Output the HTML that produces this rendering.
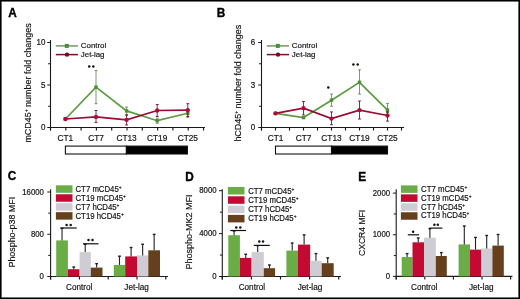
<!DOCTYPE html>
<html><head><meta charset="utf-8"><style>
html,body{margin:0;padding:0;background:#fff;}
body{position:relative;width:520px;height:299px;overflow:hidden;}
.frame{position:absolute;left:0;top:0;filter:none !important;}
svg{display:block;font-family:'Liberation Sans', sans-serif;filter:blur(0.3px);}
</style></head><body>
<svg width="520" height="299" viewBox="0 0 520 299">
<rect width="520" height="299" fill="#fff"/>
<text transform="translate(8.20,16.60) scale(1,1.04)" x="0" y="0" font-size="11.8" text-anchor="start" fill="#000" font-weight="bold" stroke="#000" stroke-width="0.35" >A</text>
<text transform="translate(216.70,16.60) scale(1,1.04)" x="0" y="0" font-size="11.8" text-anchor="start" fill="#000" font-weight="bold" stroke="#000" stroke-width="0.35" >B</text>
<text transform="translate(7.80,180.20) scale(1,1.04)" x="0" y="0" font-size="11.8" text-anchor="start" fill="#000" font-weight="bold" stroke="#000" stroke-width="0.35" >C</text>
<text transform="translate(185.20,181.00) scale(1,1.04)" x="0" y="0" font-size="11.8" text-anchor="start" fill="#000" font-weight="bold" stroke="#000" stroke-width="0.35" >D</text>
<text transform="translate(358.20,181.00) scale(1,1.04)" x="0" y="0" font-size="11.8" text-anchor="start" fill="#000" font-weight="bold" stroke="#000" stroke-width="0.35" >E</text>
<line x1="50.5" y1="40" x2="50.5" y2="130.5" stroke="#1a1a1a" stroke-width="1.1"/>
<line x1="50.0" y1="127.5" x2="205" y2="127.5" stroke="#1a1a1a" stroke-width="1"/>
<line x1="47.2" y1="127.5" x2="50.5" y2="127.5" stroke="#1a1a1a" stroke-width="1"/>
<line x1="48.1" y1="106.25" x2="50.5" y2="106.25" stroke="#1a1a1a" stroke-width="1"/>
<line x1="47.2" y1="85.0" x2="50.5" y2="85.0" stroke="#1a1a1a" stroke-width="1"/>
<line x1="48.1" y1="63.75" x2="50.5" y2="63.75" stroke="#1a1a1a" stroke-width="1"/>
<line x1="47.2" y1="42.5" x2="50.5" y2="42.5" stroke="#1a1a1a" stroke-width="1"/>
<text transform="translate(45.50,130.20) scale(1,1.13)" x="0" y="0" font-size="8" text-anchor="end" fill="#151515" font-weight="normal" stroke="#151515" stroke-width="0.18" >0</text>
<text transform="translate(45.50,87.70) scale(1,1.13)" x="0" y="0" font-size="8" text-anchor="end" fill="#151515" font-weight="normal" stroke="#151515" stroke-width="0.18" >5</text>
<text transform="translate(45.50,45.20) scale(1,1.13)" x="0" y="0" font-size="8" text-anchor="end" fill="#151515" font-weight="normal" stroke="#151515" stroke-width="0.18" >10</text>
<line x1="50.5" y1="127.5" x2="50.5" y2="130.5" stroke="#1a1a1a" stroke-width="1.15"/>
<line x1="65.8" y1="127.5" x2="65.8" y2="130.5" stroke="#1a1a1a" stroke-width="1.15"/>
<line x1="81.1" y1="127.5" x2="81.1" y2="130.5" stroke="#1a1a1a" stroke-width="1.15"/>
<line x1="96.39999999999999" y1="127.5" x2="96.39999999999999" y2="130.5" stroke="#1a1a1a" stroke-width="1.15"/>
<line x1="111.69999999999999" y1="127.5" x2="111.69999999999999" y2="130.5" stroke="#1a1a1a" stroke-width="1.15"/>
<line x1="126.99999999999999" y1="127.5" x2="126.99999999999999" y2="130.5" stroke="#1a1a1a" stroke-width="1.15"/>
<line x1="142.29999999999998" y1="127.5" x2="142.29999999999998" y2="130.5" stroke="#1a1a1a" stroke-width="1.15"/>
<line x1="157.6" y1="127.5" x2="157.6" y2="130.5" stroke="#1a1a1a" stroke-width="1.15"/>
<line x1="172.9" y1="127.5" x2="172.9" y2="130.5" stroke="#1a1a1a" stroke-width="1.15"/>
<line x1="188.20000000000002" y1="127.5" x2="188.20000000000002" y2="130.5" stroke="#1a1a1a" stroke-width="1.15"/>
<line x1="203.50000000000003" y1="127.5" x2="203.50000000000003" y2="130.5" stroke="#1a1a1a" stroke-width="1.15"/>
<text transform="translate(65.40,140.90) scale(1,1.13)" x="0" y="0" font-size="8.3" text-anchor="middle" fill="#151515" font-weight="normal" stroke="#151515" stroke-width="0.18" >CT1</text>
<text transform="translate(96.00,140.90) scale(1,1.13)" x="0" y="0" font-size="8.3" text-anchor="middle" fill="#151515" font-weight="normal" stroke="#151515" stroke-width="0.18" >CT7</text>
<text transform="translate(126.60,140.90) scale(1,1.13)" x="0" y="0" font-size="8.3" text-anchor="middle" fill="#151515" font-weight="normal" stroke="#151515" stroke-width="0.18" >CT13</text>
<text transform="translate(157.20,140.90) scale(1,1.13)" x="0" y="0" font-size="8.3" text-anchor="middle" fill="#151515" font-weight="normal" stroke="#151515" stroke-width="0.18" >CT19</text>
<text transform="translate(187.80,140.90) scale(1,1.13)" x="0" y="0" font-size="8.3" text-anchor="middle" fill="#151515" font-weight="normal" stroke="#151515" stroke-width="0.18" >CT25</text>
<rect x="65.4" y="146.1" width="61.0" height="7.9" fill="#fff" stroke="#111" stroke-width="1.1"/>
<rect x="126.4" y="146.1" width="61.0" height="7.9" fill="#000" stroke="#111" stroke-width="1.1"/>
<polyline points="65.4,119.00 96.0,87.12 126.60000000000001,110.92 157.20000000000002,120.70 187.8,113.22" fill="none" stroke="#5e9c42" stroke-width="1.7"/>
<line x1="96.0" y1="103.7" x2="96.0" y2="70.55" stroke="#6a9060" stroke-width="0.9"/>
<line x1="94.6" y1="70.55" x2="97.4" y2="70.55" stroke="#6a9060" stroke-width="1"/>
<line x1="94.6" y1="103.7" x2="97.4" y2="103.7" stroke="#6a9060" stroke-width="1"/>
<line x1="126.60000000000001" y1="115.6" x2="126.60000000000001" y2="107.1" stroke="#6a9060" stroke-width="0.9"/>
<line x1="125.2" y1="107.1" x2="128.0" y2="107.1" stroke="#6a9060" stroke-width="1"/>
<line x1="125.2" y1="115.6" x2="128.0" y2="115.6" stroke="#6a9060" stroke-width="1"/>
<line x1="157.20000000000002" y1="123.25" x2="157.20000000000002" y2="118.15" stroke="#6a9060" stroke-width="0.9"/>
<line x1="155.8" y1="118.15" x2="158.60000000000002" y2="118.15" stroke="#6a9060" stroke-width="1"/>
<line x1="155.8" y1="123.25" x2="158.60000000000002" y2="123.25" stroke="#6a9060" stroke-width="1"/>
<line x1="187.8" y1="117.3" x2="187.8" y2="110.075" stroke="#6a9060" stroke-width="0.9"/>
<line x1="186.4" y1="110.075" x2="189.20000000000002" y2="110.075" stroke="#6a9060" stroke-width="1"/>
<line x1="186.4" y1="117.3" x2="189.20000000000002" y2="117.3" stroke="#6a9060" stroke-width="1"/>
<rect x="63.7" y="117.3" width="3.4" height="3.4" fill="#4f8e38"/>
<rect x="94.3" y="85.425" width="3.4" height="3.4" fill="#4f8e38"/>
<rect x="124.9" y="109.225" width="3.4" height="3.4" fill="#4f8e38"/>
<rect x="155.50000000000003" y="119.0" width="3.4" height="3.4" fill="#4f8e38"/>
<rect x="186.10000000000002" y="111.52" width="3.4" height="3.4" fill="#4f8e38"/>
<polyline points="65.4,119.00 96.0,116.88 126.60000000000001,119.85 157.20000000000002,110.50 187.8,110.08" fill="none" stroke="#9a0c34" stroke-width="1.7"/>
<line x1="96.0" y1="122.4" x2="96.0" y2="110.5" stroke="#7a1832" stroke-width="0.9"/>
<line x1="94.6" y1="110.5" x2="97.4" y2="110.5" stroke="#7a1832" stroke-width="1"/>
<line x1="94.6" y1="122.4" x2="97.4" y2="122.4" stroke="#7a1832" stroke-width="1"/>
<line x1="126.60000000000001" y1="124.95" x2="126.60000000000001" y2="114.75" stroke="#7a1832" stroke-width="0.9"/>
<line x1="125.2" y1="114.75" x2="128.0" y2="114.75" stroke="#7a1832" stroke-width="1"/>
<line x1="125.2" y1="124.95" x2="128.0" y2="124.95" stroke="#7a1832" stroke-width="1"/>
<line x1="157.20000000000002" y1="116.45" x2="157.20000000000002" y2="104.55" stroke="#7a1832" stroke-width="0.9"/>
<line x1="155.8" y1="104.55" x2="158.60000000000002" y2="104.55" stroke="#7a1832" stroke-width="1"/>
<line x1="155.8" y1="116.45" x2="158.60000000000002" y2="116.45" stroke="#7a1832" stroke-width="1"/>
<line x1="187.8" y1="116.45" x2="187.8" y2="103.7" stroke="#7a1832" stroke-width="0.9"/>
<line x1="186.4" y1="103.7" x2="189.20000000000002" y2="103.7" stroke="#7a1832" stroke-width="1"/>
<line x1="186.4" y1="116.45" x2="189.20000000000002" y2="116.45" stroke="#7a1832" stroke-width="1"/>
<circle cx="65.4" cy="119.00" r="2.2" fill="#b00c38"/>
<circle cx="96.0" cy="116.88" r="2.2" fill="#b00c38"/>
<circle cx="126.60000000000001" cy="119.85" r="2.2" fill="#b00c38"/>
<circle cx="157.20000000000002" cy="110.50" r="2.2" fill="#b00c38"/>
<circle cx="187.8" cy="110.08" r="2.2" fill="#b00c38"/>
<circle cx="89.2" cy="66.4" r="1.25" fill="#111"/>
<circle cx="93.3" cy="66.4" r="1.25" fill="#111"/>
<line x1="55.8" y1="45.9" x2="78.0" y2="45.9" stroke="#6f9a5e" stroke-width="1.5"/>
<rect x="64.8" y="43.9" width="4" height="4" fill="#4a8a3a"/>
<line x1="55.8" y1="54.6" x2="78.0" y2="54.6" stroke="#7e0c2c" stroke-width="1.5"/>
<circle cx="67.0" cy="54.6" r="2.2" fill="#700a26"/>
<text transform="translate(80.80,48.00) scale(1,1.0)" x="0" y="0" font-size="7.9" text-anchor="start" fill="#151515" font-weight="normal" stroke="#151515" stroke-width="0.18" >Control</text>
<text transform="translate(80.80,56.70) scale(1,1.0)" x="0" y="0" font-size="7.9" text-anchor="start" fill="#151515" font-weight="normal" stroke="#151515" stroke-width="0.18" >Jet-lag</text>
<text transform="translate(31.2,83) rotate(-90) scale(1.0,0.95)" x="0" y="0" font-size="8.95" text-anchor="middle" fill="#151515" stroke="#151515" stroke-width="0.18">mCD45<tspan baseline-shift="2.8" font-size="5">+</tspan> number fold changes</text>
<line x1="261.5" y1="40" x2="261.5" y2="130.5" stroke="#1a1a1a" stroke-width="1.1"/>
<line x1="261.0" y1="127.5" x2="404" y2="127.5" stroke="#1a1a1a" stroke-width="1"/>
<line x1="258.2" y1="127.5" x2="261.5" y2="127.5" stroke="#1a1a1a" stroke-width="1"/>
<line x1="259.1" y1="106.25" x2="261.5" y2="106.25" stroke="#1a1a1a" stroke-width="1"/>
<line x1="258.2" y1="85.0" x2="261.5" y2="85.0" stroke="#1a1a1a" stroke-width="1"/>
<line x1="259.1" y1="63.75" x2="261.5" y2="63.75" stroke="#1a1a1a" stroke-width="1"/>
<line x1="258.2" y1="42.5" x2="261.5" y2="42.5" stroke="#1a1a1a" stroke-width="1"/>
<text transform="translate(255.20,130.20) scale(1,1.13)" x="0" y="0" font-size="8" text-anchor="end" fill="#151515" font-weight="normal" stroke="#151515" stroke-width="0.18" >0</text>
<text transform="translate(255.20,87.70) scale(1,1.13)" x="0" y="0" font-size="8" text-anchor="end" fill="#151515" font-weight="normal" stroke="#151515" stroke-width="0.18" >3</text>
<text transform="translate(255.20,45.20) scale(1,1.13)" x="0" y="0" font-size="8" text-anchor="end" fill="#151515" font-weight="normal" stroke="#151515" stroke-width="0.18" >6</text>
<line x1="261.5" y1="127.5" x2="261.5" y2="130.5" stroke="#1a1a1a" stroke-width="1.15"/>
<line x1="275.5" y1="127.5" x2="275.5" y2="130.5" stroke="#1a1a1a" stroke-width="1.15"/>
<line x1="289.5" y1="127.5" x2="289.5" y2="130.5" stroke="#1a1a1a" stroke-width="1.15"/>
<line x1="303.5" y1="127.5" x2="303.5" y2="130.5" stroke="#1a1a1a" stroke-width="1.15"/>
<line x1="317.5" y1="127.5" x2="317.5" y2="130.5" stroke="#1a1a1a" stroke-width="1.15"/>
<line x1="331.5" y1="127.5" x2="331.5" y2="130.5" stroke="#1a1a1a" stroke-width="1.15"/>
<line x1="345.5" y1="127.5" x2="345.5" y2="130.5" stroke="#1a1a1a" stroke-width="1.15"/>
<line x1="359.5" y1="127.5" x2="359.5" y2="130.5" stroke="#1a1a1a" stroke-width="1.15"/>
<line x1="373.5" y1="127.5" x2="373.5" y2="130.5" stroke="#1a1a1a" stroke-width="1.15"/>
<line x1="387.5" y1="127.5" x2="387.5" y2="130.5" stroke="#1a1a1a" stroke-width="1.15"/>
<line x1="401.5" y1="127.5" x2="401.5" y2="130.5" stroke="#1a1a1a" stroke-width="1.15"/>
<text transform="translate(275.50,140.90) scale(1,1.13)" x="0" y="0" font-size="8.3" text-anchor="middle" fill="#151515" font-weight="normal" stroke="#151515" stroke-width="0.18" >CT1</text>
<text transform="translate(303.50,140.90) scale(1,1.13)" x="0" y="0" font-size="8.3" text-anchor="middle" fill="#151515" font-weight="normal" stroke="#151515" stroke-width="0.18" >CT7</text>
<text transform="translate(331.50,140.90) scale(1,1.13)" x="0" y="0" font-size="8.3" text-anchor="middle" fill="#151515" font-weight="normal" stroke="#151515" stroke-width="0.18" >CT13</text>
<text transform="translate(359.50,140.90) scale(1,1.13)" x="0" y="0" font-size="8.3" text-anchor="middle" fill="#151515" font-weight="normal" stroke="#151515" stroke-width="0.18" >CT19</text>
<text transform="translate(387.50,140.90) scale(1,1.13)" x="0" y="0" font-size="8.3" text-anchor="middle" fill="#151515" font-weight="normal" stroke="#151515" stroke-width="0.18" >CT25</text>
<rect x="275.5" y="146.1" width="56.0" height="7.9" fill="#fff" stroke="#111" stroke-width="1.1"/>
<rect x="331.5" y="146.1" width="56.0" height="7.9" fill="#000" stroke="#111" stroke-width="1.1"/>
<polyline points="275.5,113.33 303.5,117.58 331.5,100.16 359.5,82.31 387.5,110.08" fill="none" stroke="#5e9c42" stroke-width="1.7"/>
<line x1="331.5" y1="106.25" x2="331.5" y2="94.06666666666666" stroke="#6a9060" stroke-width="0.9"/>
<line x1="330.1" y1="94.06666666666666" x2="332.9" y2="94.06666666666666" stroke="#6a9060" stroke-width="1"/>
<line x1="330.1" y1="106.25" x2="332.9" y2="106.25" stroke="#6a9060" stroke-width="1"/>
<line x1="359.5" y1="94.06666666666666" x2="359.5" y2="69.84166666666667" stroke="#6a9060" stroke-width="0.9"/>
<line x1="358.1" y1="69.84166666666667" x2="360.9" y2="69.84166666666667" stroke="#6a9060" stroke-width="1"/>
<line x1="358.1" y1="94.06666666666666" x2="360.9" y2="94.06666666666666" stroke="#6a9060" stroke-width="1"/>
<line x1="387.5" y1="112.48333333333333" x2="387.5" y2="103.41666666666667" stroke="#6a9060" stroke-width="0.9"/>
<line x1="386.1" y1="103.41666666666667" x2="388.9" y2="103.41666666666667" stroke="#6a9060" stroke-width="1"/>
<line x1="386.1" y1="112.48333333333333" x2="388.9" y2="112.48333333333333" stroke="#6a9060" stroke-width="1"/>
<rect x="273.8" y="111.63333333333333" width="3.4" height="3.4" fill="#4f8e38"/>
<rect x="301.8" y="115.88333333333333" width="3.4" height="3.4" fill="#4f8e38"/>
<rect x="329.8" y="98.45833333333333" width="3.4" height="3.4" fill="#4f8e38"/>
<rect x="357.8" y="80.60833333333333" width="3.4" height="3.4" fill="#4f8e38"/>
<rect x="385.8" y="108.375" width="3.4" height="3.4" fill="#4f8e38"/>
<polyline points="275.5,113.33 303.5,108.23 331.5,118.58 359.5,110.08 387.5,115.46" fill="none" stroke="#9a0c34" stroke-width="1.7"/>
<line x1="303.5" y1="114.89166666666667" x2="303.5" y2="101.575" stroke="#7a1832" stroke-width="0.9"/>
<line x1="302.1" y1="101.575" x2="304.9" y2="101.575" stroke="#7a1832" stroke-width="1"/>
<line x1="302.1" y1="114.89166666666667" x2="304.9" y2="114.89166666666667" stroke="#7a1832" stroke-width="1"/>
<line x1="331.5" y1="124.66666666666667" x2="331.5" y2="111.91666666666666" stroke="#7a1832" stroke-width="0.9"/>
<line x1="330.1" y1="111.91666666666666" x2="332.9" y2="111.91666666666666" stroke="#7a1832" stroke-width="1"/>
<line x1="330.1" y1="124.66666666666667" x2="332.9" y2="124.66666666666667" stroke="#7a1832" stroke-width="1"/>
<line x1="359.5" y1="119.0" x2="359.5" y2="101.00833333333333" stroke="#7a1832" stroke-width="0.9"/>
<line x1="358.1" y1="101.00833333333333" x2="360.9" y2="101.00833333333333" stroke="#7a1832" stroke-width="1"/>
<line x1="358.1" y1="119.0" x2="360.9" y2="119.0" stroke="#7a1832" stroke-width="1"/>
<line x1="387.5" y1="121.125" x2="387.5" y2="111.91666666666666" stroke="#7a1832" stroke-width="0.9"/>
<line x1="386.1" y1="111.91666666666666" x2="388.9" y2="111.91666666666666" stroke="#7a1832" stroke-width="1"/>
<line x1="386.1" y1="121.125" x2="388.9" y2="121.125" stroke="#7a1832" stroke-width="1"/>
<circle cx="275.5" cy="113.33" r="2.2" fill="#b00c38"/>
<circle cx="303.5" cy="108.23" r="2.2" fill="#b00c38"/>
<circle cx="331.5" cy="118.58" r="2.2" fill="#b00c38"/>
<circle cx="359.5" cy="110.08" r="2.2" fill="#b00c38"/>
<circle cx="387.5" cy="115.46" r="2.2" fill="#b00c38"/>
<circle cx="328.3" cy="87.4" r="1.25" fill="#111"/>
<circle cx="353.4" cy="64.5" r="1.25" fill="#111"/>
<circle cx="357.7" cy="64.5" r="1.25" fill="#111"/>
<line x1="266.8" y1="45.9" x2="289.0" y2="45.9" stroke="#6f9a5e" stroke-width="1.5"/>
<rect x="275.8" y="43.9" width="4" height="4" fill="#4a8a3a"/>
<line x1="266.8" y1="54.6" x2="289.0" y2="54.6" stroke="#7e0c2c" stroke-width="1.5"/>
<circle cx="278.0" cy="54.6" r="2.2" fill="#700a26"/>
<text transform="translate(291.80,48.00) scale(1,1.0)" x="0" y="0" font-size="7.9" text-anchor="start" fill="#151515" font-weight="normal" stroke="#151515" stroke-width="0.18" >Control</text>
<text transform="translate(291.80,56.70) scale(1,1.0)" x="0" y="0" font-size="7.9" text-anchor="start" fill="#151515" font-weight="normal" stroke="#151515" stroke-width="0.18" >Jet-lag</text>
<text transform="translate(240.8,83.25) rotate(-90) scale(1.0,0.95)" x="0" y="0" font-size="8.95" text-anchor="middle" fill="#151515" stroke="#151515" stroke-width="0.18">hCD45<tspan baseline-shift="2.8" font-size="5">+</tspan> number fold changes</text>
<line x1="50.6" y1="189.3" x2="50.6" y2="279.5" stroke="#1a1a1a" stroke-width="1.1"/>
<line x1="50.1" y1="276.5" x2="168" y2="276.5" stroke="#1a1a1a" stroke-width="1.1"/>
<line x1="47.300000000000004" y1="276.5" x2="50.6" y2="276.5" stroke="#1a1a1a" stroke-width="1"/>
<line x1="48.2" y1="255.375" x2="50.6" y2="255.375" stroke="#1a1a1a" stroke-width="1"/>
<line x1="47.300000000000004" y1="234.25" x2="50.6" y2="234.25" stroke="#1a1a1a" stroke-width="1"/>
<line x1="48.2" y1="213.125" x2="50.6" y2="213.125" stroke="#1a1a1a" stroke-width="1"/>
<line x1="47.300000000000004" y1="192.0" x2="50.6" y2="192.0" stroke="#1a1a1a" stroke-width="1"/>
<text transform="translate(43.90,279.20) scale(1,1.13)" x="0" y="0" font-size="7.8" text-anchor="end" fill="#151515" font-weight="normal" stroke="#151515" stroke-width="0.18" >0</text>
<text transform="translate(43.90,236.95) scale(1,1.13)" x="0" y="0" font-size="7.8" text-anchor="end" fill="#151515" font-weight="normal" stroke="#151515" stroke-width="0.18" >800</text>
<text transform="translate(43.90,194.70) scale(1,1.13)" x="0" y="0" font-size="7.8" text-anchor="end" fill="#151515" font-weight="normal" stroke="#151515" stroke-width="0.18" >16000</text>
<line x1="50.6" y1="276.5" x2="50.6" y2="279.5" stroke="#1a1a1a" stroke-width="1.15"/>
<line x1="79.4" y1="276.5" x2="79.4" y2="279.5" stroke="#1a1a1a" stroke-width="1.15"/>
<line x1="108.2" y1="276.5" x2="108.2" y2="279.5" stroke="#1a1a1a" stroke-width="1.15"/>
<line x1="137.0" y1="276.5" x2="137.0" y2="279.5" stroke="#1a1a1a" stroke-width="1.15"/>
<line x1="165.8" y1="276.5" x2="165.8" y2="279.5" stroke="#1a1a1a" stroke-width="1.15"/>
<rect x="56.2" y="240.4" width="11.700000000000003" height="36.099999999999994" fill="#6aac46"/>
<line x1="62.050000000000004" y1="240.4" x2="62.050000000000004" y2="228.0" stroke="#222" stroke-width="1.1"/>
<line x1="60.650000000000006" y1="228.3" x2="63.45" y2="228.3" stroke="#222" stroke-width="1.4"/>
<rect x="67.9" y="269.2" width="11.699999999999989" height="7.300000000000011" fill="#c20a32"/>
<line x1="73.75" y1="269.2" x2="73.75" y2="266.7" stroke="#222" stroke-width="1.1"/>
<line x1="72.35" y1="267.0" x2="75.15" y2="267.0" stroke="#222" stroke-width="1.4"/>
<rect x="79.6" y="252.1" width="11.200000000000003" height="24.400000000000006" fill="#cfccd4"/>
<line x1="85.19999999999999" y1="252.1" x2="85.19999999999999" y2="244.0" stroke="#222" stroke-width="1.1"/>
<line x1="83.79999999999998" y1="244.3" x2="86.6" y2="244.3" stroke="#222" stroke-width="1.4"/>
<rect x="90.8" y="267.6" width="11.700000000000003" height="8.899999999999977" fill="#66401c"/>
<line x1="96.65" y1="267.6" x2="96.65" y2="263.4" stroke="#222" stroke-width="1.1"/>
<line x1="95.25" y1="263.7" x2="98.05000000000001" y2="263.7" stroke="#222" stroke-width="1.4"/>
<rect x="113.8" y="264.9" width="11.400000000000006" height="11.600000000000023" fill="#6aac46"/>
<line x1="119.5" y1="264.9" x2="119.5" y2="255.9" stroke="#222" stroke-width="1.1"/>
<line x1="118.1" y1="256.2" x2="120.9" y2="256.2" stroke="#222" stroke-width="1.4"/>
<rect x="125.2" y="256.4" width="11.799999999999997" height="20.100000000000023" fill="#c20a32"/>
<line x1="131.1" y1="256.4" x2="131.1" y2="247.2" stroke="#222" stroke-width="1.1"/>
<line x1="129.7" y1="247.5" x2="132.5" y2="247.5" stroke="#222" stroke-width="1.4"/>
<rect x="137.0" y="255.4" width="11.300000000000011" height="21.099999999999994" fill="#cfccd4"/>
<line x1="142.65" y1="255.4" x2="142.65" y2="244.0" stroke="#222" stroke-width="1.1"/>
<line x1="141.25" y1="244.3" x2="144.05" y2="244.3" stroke="#222" stroke-width="1.4"/>
<rect x="148.3" y="250.3" width="11.699999999999989" height="26.19999999999999" fill="#66401c"/>
<line x1="154.15" y1="250.3" x2="154.15" y2="234.1" stroke="#222" stroke-width="1.1"/>
<line x1="152.75" y1="234.4" x2="155.55" y2="234.4" stroke="#222" stroke-width="1.4"/>
<line x1="60.3" y1="228.0" x2="76.7" y2="228.0" stroke="#111" stroke-width="1.2"/>
<circle cx="66.6" cy="225" r="1.25" fill="#111"/>
<circle cx="70.7" cy="225" r="1.25" fill="#111"/>
<line x1="83.0" y1="243.8" x2="98.5" y2="243.8" stroke="#111" stroke-width="1.2"/>
<circle cx="88.5" cy="240" r="1.25" fill="#111"/>
<circle cx="92.5" cy="240" r="1.25" fill="#111"/>
<text transform="translate(79.20,290.00) scale(1,1.0)" x="0" y="0" font-size="8.2" text-anchor="middle" fill="#151515" font-weight="normal" stroke="#151515" stroke-width="0.18" >Control</text>
<text transform="translate(136.60,290.00) scale(1,1.0)" x="0" y="0" font-size="8.2" text-anchor="middle" fill="#151515" font-weight="normal" stroke="#151515" stroke-width="0.18" >Jet-lag</text>
<rect x="55.9" y="185.3" width="16.6" height="7.5" fill="#6aac46"/>
<rect x="55.9" y="194.25" width="16.6" height="7.5" fill="#c20a32"/>
<rect x="55.9" y="203.20000000000002" width="16.6" height="7.5" fill="#cfccd4"/>
<rect x="55.9" y="212.15" width="16.6" height="7.5" fill="#66401c"/>
<text transform="translate(75.50,192.10) scale(1,1.05)" x="0" y="0" font-size="7.8" text-anchor="start" fill="#151515" font-weight="normal" stroke="#151515" stroke-width="0.18" >CT7 mCD45<tspan baseline-shift="2.8" font-size="4.8">+</tspan></text>
<text transform="translate(75.50,201.05) scale(1,1.05)" x="0" y="0" font-size="7.8" text-anchor="start" fill="#151515" font-weight="normal" stroke="#151515" stroke-width="0.18" >CT19 mCD45<tspan baseline-shift="2.8" font-size="4.8">+</tspan></text>
<text transform="translate(75.50,210.00) scale(1,1.05)" x="0" y="0" font-size="7.8" text-anchor="start" fill="#151515" font-weight="normal" stroke="#151515" stroke-width="0.18" >CT7 hCD45<tspan baseline-shift="2.8" font-size="4.8">+</tspan></text>
<text transform="translate(75.50,218.95) scale(1,1.05)" x="0" y="0" font-size="7.8" text-anchor="start" fill="#151515" font-weight="normal" stroke="#151515" stroke-width="0.18" >CT19 hCD45<tspan baseline-shift="2.8" font-size="4.8">+</tspan></text>
<text transform="translate(14.5,232.2) rotate(-90) scale(1.0,0.95)" x="0" y="0" font-size="8.9" text-anchor="middle" fill="#151515" stroke="#151515" stroke-width="0.18">Phospho-p38 MFI</text>
<line x1="222.3" y1="189.3" x2="222.3" y2="279.5" stroke="#1a1a1a" stroke-width="1.1"/>
<line x1="221.8" y1="276.5" x2="341" y2="276.5" stroke="#1a1a1a" stroke-width="1.1"/>
<line x1="219.0" y1="276.5" x2="222.3" y2="276.5" stroke="#1a1a1a" stroke-width="1"/>
<line x1="219.9" y1="255.05" x2="222.3" y2="255.05" stroke="#1a1a1a" stroke-width="1"/>
<line x1="219.0" y1="233.6" x2="222.3" y2="233.6" stroke="#1a1a1a" stroke-width="1"/>
<line x1="219.9" y1="212.14999999999998" x2="222.3" y2="212.14999999999998" stroke="#1a1a1a" stroke-width="1"/>
<line x1="219.0" y1="190.7" x2="222.3" y2="190.7" stroke="#1a1a1a" stroke-width="1"/>
<text transform="translate(216.60,279.20) scale(1,1.13)" x="0" y="0" font-size="7.8" text-anchor="end" fill="#151515" font-weight="normal" stroke="#151515" stroke-width="0.18" >0</text>
<text transform="translate(216.60,236.30) scale(1,1.13)" x="0" y="0" font-size="7.8" text-anchor="end" fill="#151515" font-weight="normal" stroke="#151515" stroke-width="0.18" >4000</text>
<text transform="translate(216.60,193.40) scale(1,1.13)" x="0" y="0" font-size="7.8" text-anchor="end" fill="#151515" font-weight="normal" stroke="#151515" stroke-width="0.18" >8000</text>
<line x1="222.3" y1="276.5" x2="222.3" y2="279.5" stroke="#1a1a1a" stroke-width="1.15"/>
<line x1="251.4" y1="276.5" x2="251.4" y2="279.5" stroke="#1a1a1a" stroke-width="1.15"/>
<line x1="280.5" y1="276.5" x2="280.5" y2="279.5" stroke="#1a1a1a" stroke-width="1.15"/>
<line x1="309.6" y1="276.5" x2="309.6" y2="279.5" stroke="#1a1a1a" stroke-width="1.15"/>
<line x1="338.70000000000005" y1="276.5" x2="338.70000000000005" y2="279.5" stroke="#1a1a1a" stroke-width="1.15"/>
<rect x="228.3" y="235.2" width="11.599999999999994" height="41.30000000000001" fill="#6aac46"/>
<line x1="234.10000000000002" y1="235.2" x2="234.10000000000002" y2="230.7" stroke="#222" stroke-width="1.1"/>
<line x1="232.70000000000002" y1="231.0" x2="235.50000000000003" y2="231.0" stroke="#222" stroke-width="1.4"/>
<rect x="239.9" y="257.9" width="11.699999999999989" height="18.600000000000023" fill="#c20a32"/>
<line x1="245.75" y1="257.9" x2="245.75" y2="254.0" stroke="#222" stroke-width="1.1"/>
<line x1="244.35" y1="254.3" x2="247.15" y2="254.3" stroke="#222" stroke-width="1.4"/>
<rect x="251.6" y="252.1" width="12.200000000000017" height="24.400000000000006" fill="#cfccd4"/>
<line x1="257.7" y1="252.1" x2="257.7" y2="245.3" stroke="#222" stroke-width="1.1"/>
<line x1="256.3" y1="245.60000000000002" x2="259.09999999999997" y2="245.60000000000002" stroke="#222" stroke-width="1.4"/>
<rect x="263.8" y="268.2" width="11.300000000000011" height="8.300000000000011" fill="#66401c"/>
<line x1="269.45000000000005" y1="268.2" x2="269.45000000000005" y2="264.7" stroke="#222" stroke-width="1.1"/>
<line x1="268.05000000000007" y1="265.0" x2="270.85" y2="265.0" stroke="#222" stroke-width="1.4"/>
<rect x="286.4" y="250.6" width="11.600000000000023" height="25.900000000000006" fill="#6aac46"/>
<line x1="292.2" y1="250.6" x2="292.2" y2="242.8" stroke="#222" stroke-width="1.1"/>
<line x1="290.8" y1="243.10000000000002" x2="293.59999999999997" y2="243.10000000000002" stroke="#222" stroke-width="1.4"/>
<rect x="298.0" y="244.6" width="12.199999999999989" height="31.900000000000006" fill="#c20a32"/>
<line x1="304.1" y1="244.6" x2="304.1" y2="234.6" stroke="#222" stroke-width="1.1"/>
<line x1="302.70000000000005" y1="234.9" x2="305.5" y2="234.9" stroke="#222" stroke-width="1.4"/>
<rect x="310.2" y="260.8" width="11.5" height="15.699999999999989" fill="#cfccd4"/>
<line x1="315.95" y1="260.8" x2="315.95" y2="253.3" stroke="#222" stroke-width="1.1"/>
<line x1="314.55" y1="253.60000000000002" x2="317.34999999999997" y2="253.60000000000002" stroke="#222" stroke-width="1.4"/>
<rect x="321.7" y="263.2" width="12.0" height="13.300000000000011" fill="#66401c"/>
<line x1="327.7" y1="263.2" x2="327.7" y2="257.6" stroke="#222" stroke-width="1.1"/>
<line x1="326.3" y1="257.90000000000003" x2="329.09999999999997" y2="257.90000000000003" stroke="#222" stroke-width="1.4"/>
<line x1="230.3" y1="230.5" x2="246.0" y2="230.5" stroke="#111" stroke-width="1.2"/>
<circle cx="236.3" cy="227.6" r="1.25" fill="#111"/>
<circle cx="240.3" cy="227.6" r="1.25" fill="#111"/>
<line x1="253.8" y1="245.4" x2="269.8" y2="245.4" stroke="#111" stroke-width="1.2"/>
<circle cx="259.3" cy="241.5" r="1.25" fill="#111"/>
<circle cx="263.0" cy="241.5" r="1.25" fill="#111"/>
<text transform="translate(251.85,290.00) scale(1,1.0)" x="0" y="0" font-size="8.2" text-anchor="middle" fill="#151515" font-weight="normal" stroke="#151515" stroke-width="0.18" >Control</text>
<text transform="translate(310.00,290.00) scale(1,1.0)" x="0" y="0" font-size="8.2" text-anchor="middle" fill="#151515" font-weight="normal" stroke="#151515" stroke-width="0.18" >Jet-lag</text>
<rect x="227.9" y="187.0" width="16.6" height="7.5" fill="#6aac46"/>
<rect x="227.9" y="196.3" width="16.6" height="7.5" fill="#c20a32"/>
<rect x="227.9" y="205.6" width="16.6" height="7.5" fill="#cfccd4"/>
<rect x="227.9" y="214.9" width="16.6" height="7.5" fill="#66401c"/>
<text transform="translate(248.20,193.90) scale(1,1.05)" x="0" y="0" font-size="7.8" text-anchor="start" fill="#151515" font-weight="normal" stroke="#151515" stroke-width="0.18" >CT7 mCD45<tspan baseline-shift="2.8" font-size="4.8">+</tspan></text>
<text transform="translate(248.20,203.00) scale(1,1.05)" x="0" y="0" font-size="7.8" text-anchor="start" fill="#151515" font-weight="normal" stroke="#151515" stroke-width="0.18" >CT19 mCD45<tspan baseline-shift="2.8" font-size="4.8">+</tspan></text>
<text transform="translate(248.20,212.10) scale(1,1.05)" x="0" y="0" font-size="7.8" text-anchor="start" fill="#151515" font-weight="normal" stroke="#151515" stroke-width="0.18" >CT7 hCD45<tspan baseline-shift="2.8" font-size="4.8">+</tspan></text>
<text transform="translate(248.20,221.20) scale(1,1.05)" x="0" y="0" font-size="7.8" text-anchor="start" fill="#151515" font-weight="normal" stroke="#151515" stroke-width="0.18" >CT19 hCD45<tspan baseline-shift="2.8" font-size="4.8">+</tspan></text>
<text transform="translate(192.3,232) rotate(-90) scale(1.0,0.95)" x="0" y="0" font-size="9.0" text-anchor="middle" fill="#151515" stroke="#151515" stroke-width="0.18">Phospho-MK2 MFI</text>
<line x1="396.2" y1="189.3" x2="396.2" y2="279.4" stroke="#1a1a1a" stroke-width="1.1"/>
<line x1="395.7" y1="276.4" x2="512.4" y2="276.4" stroke="#1a1a1a" stroke-width="1.1"/>
<line x1="392.9" y1="276.4" x2="396.2" y2="276.4" stroke="#1a1a1a" stroke-width="1"/>
<line x1="393.8" y1="255.575" x2="396.2" y2="255.575" stroke="#1a1a1a" stroke-width="1"/>
<line x1="392.9" y1="234.75" x2="396.2" y2="234.75" stroke="#1a1a1a" stroke-width="1"/>
<line x1="393.8" y1="213.92499999999998" x2="396.2" y2="213.92499999999998" stroke="#1a1a1a" stroke-width="1"/>
<line x1="392.9" y1="193.1" x2="396.2" y2="193.1" stroke="#1a1a1a" stroke-width="1"/>
<text transform="translate(390.10,279.10) scale(1,1.13)" x="0" y="0" font-size="7.8" text-anchor="end" fill="#151515" font-weight="normal" stroke="#151515" stroke-width="0.18" >0</text>
<text transform="translate(390.10,237.45) scale(1,1.13)" x="0" y="0" font-size="7.8" text-anchor="end" fill="#151515" font-weight="normal" stroke="#151515" stroke-width="0.18" >1000</text>
<text transform="translate(390.10,195.80) scale(1,1.13)" x="0" y="0" font-size="7.8" text-anchor="end" fill="#151515" font-weight="normal" stroke="#151515" stroke-width="0.18" >2000</text>
<line x1="396.2" y1="276.4" x2="396.2" y2="279.4" stroke="#1a1a1a" stroke-width="1.15"/>
<line x1="424.8" y1="276.4" x2="424.8" y2="279.4" stroke="#1a1a1a" stroke-width="1.15"/>
<line x1="453.40000000000003" y1="276.4" x2="453.40000000000003" y2="279.4" stroke="#1a1a1a" stroke-width="1.15"/>
<line x1="482.00000000000006" y1="276.4" x2="482.00000000000006" y2="279.4" stroke="#1a1a1a" stroke-width="1.15"/>
<line x1="510.6000000000001" y1="276.4" x2="510.6000000000001" y2="279.4" stroke="#1a1a1a" stroke-width="1.15"/>
<rect x="401.7" y="257.0" width="10.800000000000011" height="19.399999999999977" fill="#6aac46"/>
<line x1="407.1" y1="257.0" x2="407.1" y2="253.3" stroke="#222" stroke-width="1.1"/>
<line x1="405.70000000000005" y1="253.60000000000002" x2="408.5" y2="253.60000000000002" stroke="#222" stroke-width="1.4"/>
<rect x="412.5" y="242.3" width="11.5" height="34.099999999999966" fill="#c20a32"/>
<line x1="418.25" y1="242.3" x2="418.25" y2="237.7" stroke="#222" stroke-width="1.1"/>
<line x1="416.85" y1="238.0" x2="419.65" y2="238.0" stroke="#222" stroke-width="1.4"/>
<rect x="424.0" y="237.7" width="11.800000000000011" height="38.69999999999999" fill="#cfccd4"/>
<line x1="429.9" y1="237.7" x2="429.9" y2="228.4" stroke="#222" stroke-width="1.1"/>
<line x1="428.5" y1="228.70000000000002" x2="431.29999999999995" y2="228.70000000000002" stroke="#222" stroke-width="1.4"/>
<rect x="435.8" y="256.0" width="11.0" height="20.399999999999977" fill="#66401c"/>
<line x1="441.3" y1="256.0" x2="441.3" y2="252.3" stroke="#222" stroke-width="1.1"/>
<line x1="439.90000000000003" y1="252.60000000000002" x2="442.7" y2="252.60000000000002" stroke="#222" stroke-width="1.4"/>
<rect x="458.6" y="244.4" width="11.399999999999977" height="31.99999999999997" fill="#6aac46"/>
<line x1="464.3" y1="244.4" x2="464.3" y2="225.7" stroke="#222" stroke-width="1.1"/>
<line x1="462.90000000000003" y1="226.0" x2="465.7" y2="226.0" stroke="#222" stroke-width="1.4"/>
<rect x="470.0" y="249.6" width="11.0" height="26.799999999999983" fill="#c20a32"/>
<line x1="475.5" y1="249.6" x2="475.5" y2="237.1" stroke="#222" stroke-width="1.1"/>
<line x1="474.1" y1="237.4" x2="476.9" y2="237.4" stroke="#222" stroke-width="1.4"/>
<rect x="481.0" y="248.5" width="11.399999999999977" height="27.899999999999977" fill="#cfccd4"/>
<line x1="486.7" y1="248.5" x2="486.7" y2="235.2" stroke="#222" stroke-width="1.1"/>
<line x1="485.3" y1="235.5" x2="488.09999999999997" y2="235.5" stroke="#222" stroke-width="1.4"/>
<rect x="492.4" y="245.6" width="11.400000000000034" height="30.799999999999983" fill="#66401c"/>
<line x1="498.1" y1="245.6" x2="498.1" y2="234.2" stroke="#222" stroke-width="1.1"/>
<line x1="496.70000000000005" y1="234.5" x2="499.5" y2="234.5" stroke="#222" stroke-width="1.4"/>
<line x1="407.8" y1="234.8" x2="419.0" y2="234.8" stroke="#111" stroke-width="1.2"/>
<circle cx="413.1" cy="231.8" r="1.25" fill="#111"/>
<line x1="429.4" y1="228.1" x2="442.4" y2="228.1" stroke="#111" stroke-width="1.2"/>
<circle cx="434.4" cy="224.8" r="1.25" fill="#111"/>
<circle cx="437.8" cy="224.8" r="1.25" fill="#111"/>
<text transform="translate(424.20,290.00) scale(1,1.0)" x="0" y="0" font-size="8.2" text-anchor="middle" fill="#151515" font-weight="normal" stroke="#151515" stroke-width="0.18" >Control</text>
<text transform="translate(481.20,290.00) scale(1,1.0)" x="0" y="0" font-size="8.2" text-anchor="middle" fill="#151515" font-weight="normal" stroke="#151515" stroke-width="0.18" >Jet-lag</text>
<rect x="400.9" y="185.4" width="16.6" height="7.5" fill="#6aac46"/>
<rect x="400.9" y="194.35" width="16.6" height="7.5" fill="#c20a32"/>
<rect x="400.9" y="203.3" width="16.6" height="7.5" fill="#cfccd4"/>
<rect x="400.9" y="212.25" width="16.6" height="7.5" fill="#66401c"/>
<text transform="translate(421.10,192.00) scale(1,1.05)" x="0" y="0" font-size="7.8" text-anchor="start" fill="#151515" font-weight="normal" stroke="#151515" stroke-width="0.18" >CT7 mCD45<tspan baseline-shift="2.8" font-size="4.8">+</tspan></text>
<text transform="translate(421.10,200.80) scale(1,1.05)" x="0" y="0" font-size="7.8" text-anchor="start" fill="#151515" font-weight="normal" stroke="#151515" stroke-width="0.18" >CT19 mCD45<tspan baseline-shift="2.8" font-size="4.8">+</tspan></text>
<text transform="translate(421.10,209.60) scale(1,1.05)" x="0" y="0" font-size="7.8" text-anchor="start" fill="#151515" font-weight="normal" stroke="#151515" stroke-width="0.18" >CT7 hCD45<tspan baseline-shift="2.8" font-size="4.8">+</tspan></text>
<text transform="translate(421.10,218.40) scale(1,1.05)" x="0" y="0" font-size="7.8" text-anchor="start" fill="#151515" font-weight="normal" stroke="#151515" stroke-width="0.18" >CT19 hCD45<tspan baseline-shift="2.8" font-size="4.8">+</tspan></text>
<text transform="translate(364.7,232.9) rotate(-90) scale(1.0,0.95)" x="0" y="0" font-size="8.6" text-anchor="middle" fill="#151515" stroke="#151515" stroke-width="0.18">CXCR4 MFI</text>
</svg>
<svg class="frame" width="520" height="299" viewBox="0 0 520 299"><rect x="0.8" y="0.75" width="518.4" height="297.5" fill="none" stroke="#000" stroke-width="1.6"/></svg>
</body></html>
